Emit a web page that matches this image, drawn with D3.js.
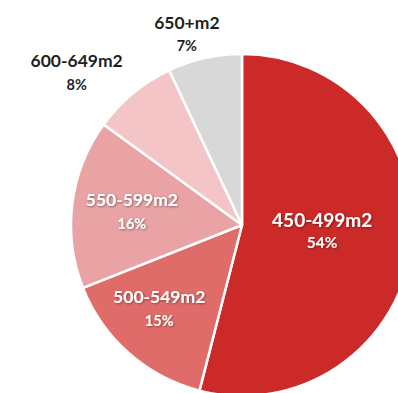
<!DOCTYPE html>
<html>
<head>
<meta charset="utf-8">
<script src="https://cdn.jsdelivr.net/npm/d3@7"></script>
<style>
  html, body { margin: 0; padding: 0; background: #fff; }
  svg { display: block; }
  text { font-family: Lato, "Open Sans", sans-serif; font-weight: 700; }
</style>
</head>
<body>
<svg id="chart" width="398" height="393"></svg>
<script>
// Share of dwellings by floor-area band
const categories = ["450-499m2", "500-549m2", "550-599m2", "600-649m2", "650+m2"];
const shares = [54, 15, 16, 8, 7];
const percentLabels = ["54%", "15%", "16%", "8%", "7%"];
const colors = ["#cc2a28", "#e06c6a", "#e9a3a4", "#f3c5c7", "#d8d8d8"];

const width = 398, height = 393;
const cx = 242, cy = 225, radius = 171;

const svg = d3.select("#chart");

const defs = svg.append("defs");
const shadow = defs.append("filter").attr("id", "txtShadow")
  .attr("x", "-20%").attr("y", "-20%").attr("width", "140%").attr("height", "140%");
shadow.append("feDropShadow").attr("dx", 0.8).attr("dy", 0.8)
  .attr("stdDeviation", 0.8).attr("flood-color", "#000").attr("flood-opacity", 0.45);

const data = categories.map((c, i) => ({ cat: c, value: shares[i], pct: percentLabels[i], color: colors[i] }));

const pie = d3.pie().value(d => d.value).sort(null);
const arc = d3.arc().innerRadius(0).outerRadius(radius);

const g = svg.append("g").attr("transform", `translate(${cx},${cy})`);
const arcs = pie(data);

g.selectAll("path").data(arcs).join("path")
  .attr("d", arc)
  .attr("fill", d => d.data.color)
  .attr("stroke", "#fff")
  .attr("stroke-width", 2.5)
  .attr("stroke-linejoin", "round");

// label placement: radius as a fraction of the pie radius, plus a small angular nudge (degrees)
const labelRadius = [0.47, 0.68, 0.65, 1.32, 1.17];
const labelNudge = [-3, 4, 0.6, -7.5, -3.4];
const inside = [true, true, true, false, false];
const nameSize = [19, 17.5, 17.5, 17.5, 17.5];
const pctSize = [15.5, 14.5, 14.5, 14.5, 14.5];
const lineGap = [21, 23, 23, 23, 22];

arcs.forEach((a, i) => {
  const mid = (a.startAngle + a.endAngle) / 2 + labelNudge[i] * Math.PI / 180;
  const r = radius * labelRadius[i];
  const x = Math.sin(mid) * r;
  const y = -Math.cos(mid) * r;
  const fill = inside[i] ? "#fff" : "#1f1f1f";
  const lg = g.append("g").attr("transform", `translate(${x},${y})`);
  if (inside[i]) lg.attr("filter", "url(#txtShadow)");
  lg.append("text")
    .attr("text-anchor", "middle")
    .attr("y", -4)
    .attr("font-size", nameSize[i])
    .attr("fill", fill)
    .text(a.data.cat);
  lg.append("text")
    .attr("text-anchor", "middle")
    .attr("y", -4 + lineGap[i])
    .attr("font-size", pctSize[i])
    .attr("fill", fill)
    .text(a.data.pct);
});
</script>
</body>
</html>
